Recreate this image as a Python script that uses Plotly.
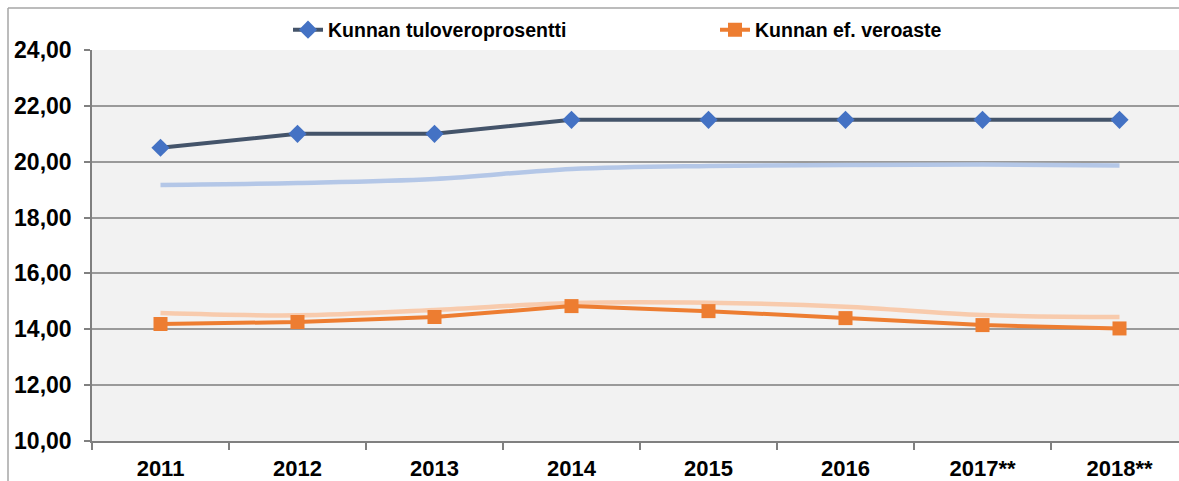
import plotly.graph_objects as go

years = ["2011", "2012", "2013", "2014", "2015", "2016", "2017**", "2018**"]
tulovero = [20.5, 21.0, 21.0, 21.5, 21.5, 21.5, 21.5, 21.5]
tulovero_light = [19.17, 19.24, 19.38, 19.74, 19.85, 19.88, 19.90, 19.86]
ef_veroaste = [14.19, 14.26, 14.44, 14.83, 14.65, 14.40, 14.15, 14.03]
ef_light = [14.58, 14.50, 14.69, 14.94, 14.95, 14.81, 14.51, 14.44]
y_ticks = [10, 12, 14, 16, 18, 20, 22, 24]
y_labels = ["10,00", "12,00", "14,00", "16,00", "18,00", "20,00", "22,00", "24,00"]

fig = go.Figure()
fig.add_trace(go.Scatter(x=years, y=tulovero_light, mode="lines", showlegend=False,
                         line=dict(color="#B4C7E7", width=4.5, shape="spline"), hoverinfo="skip"))
fig.add_trace(go.Scatter(x=years, y=ef_light, mode="lines", showlegend=False,
                         line=dict(color="#F8CBAD", width=4.5, shape="spline"), hoverinfo="skip"))
fig.add_trace(go.Scatter(x=years, y=tulovero, mode="lines+markers", name="Kunnan tuloveroprosentti",
                         line=dict(color="#44546A", width=4),
                         marker=dict(symbol="diamond", size=14, color="#4472C4")))
fig.add_trace(go.Scatter(x=years, y=ef_veroaste, mode="lines+markers", name="Kunnan ef. veroaste",
                         line=dict(color="#ED7D31", width=4),
                         marker=dict(symbol="square", size=14, color="#ED7D31")))

px_l, px_t, px_b = 92, 50, 441
W, H = 1179, 481
pw = W - px_l
ph = px_b - px_t
bx = (8 - px_l) / pw
by = 1 + (px_t - 8) / ph

fig.update_layout(
    width=W, height=H,
    margin=dict(l=px_l, r=0, t=px_t, b=H - px_b),
    paper_bgcolor="white", plot_bgcolor="#F2F2F2",
    font=dict(family="Liberation Sans, Arial", color="black"),
    legend=dict(orientation="h", x=(288 - px_l) / pw, xanchor="left",
                y=1 + (px_t - 30) / ph, yanchor="middle",
                font=dict(size=19.5, family="Liberation Sans, Arial", weight="bold"),
                entrywidth=382, bgcolor="rgba(0,0,0,0)"),
    xaxis=dict(type="category", range=[-0.5, -0.5 + pw / 137.0], tickson="boundaries",
               ticks="outside", ticklen=7, tickcolor="#808080", tickwidth=1.5,
               showline=True, linecolor="#808080", linewidth=1.5, showgrid=False,
               tickfont=dict(size=22, weight="bold"), ticklabelstandoff=7, fixedrange=True),
    yaxis=dict(range=[10, 24], tickvals=y_ticks, ticktext=y_labels,
               ticks="outside", ticklen=6, tickcolor="#808080", tickwidth=1.5,
               showline=True, linecolor="#808080", linewidth=1.5,
               showgrid=True, gridcolor="#9A9A9A", gridwidth=1.5, zeroline=False,
               tickfont=dict(size=23, weight="bold"), ticklabelstandoff=8),
    shapes=[
        dict(type="line", xref="paper", yref="paper", x0=bx, x1=1.05, y0=by, y1=by,
             line=dict(color="#A6A6A6", width=1.5)),
        dict(type="line", xref="paper", yref="paper", x0=bx, x1=bx, y0=by, y1=-0.2,
             line=dict(color="#A6A6A6", width=1.5)),
    ],
)

fig.write_html("out.html", config={"displayModeBar": False},
               post_script="document.body.style.margin='0';document.body.style.overflow='hidden';")
